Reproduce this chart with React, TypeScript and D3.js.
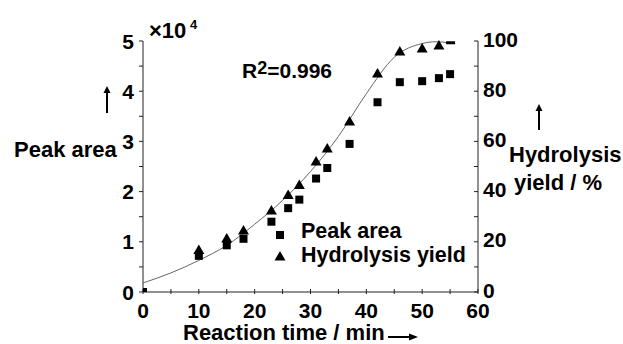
import { scaleLinear, line, curveMonotoneX, range } from 'd3';

// Peak area (x10^4) — squares
const peakTimes = [0, 10, 15, 18, 23, 26, 28, 31, 33, 37, 42, 46, 50, 53, 55];
const peakArea = [0, 0.72, 0.93, 1.06, 1.4, 1.67, 1.84, 2.26, 2.47, 2.95, 3.78, 4.18, 4.2, 4.26, 4.34];

// Hydrolysis yield (%) — triangles
const yieldTimes = [10, 15, 18, 23, 26, 28, 31, 33, 37, 42, 46, 50, 53];
const yieldPct = [16.9, 21.5, 24.7, 32.7, 38.8, 42.8, 52.2, 57.4, 68.1, 87.3, 96.0, 97.2, 98.4];
const yieldEnd = { t: 55, v: 99.3 };

// fitted curve (right axis, %)
const fitTimes = [0, 5, 10, 15, 20, 25, 30, 35, 40, 45, 50, 52.5, 55];
const fitPct = [3.6, 7.6, 12.6, 18.6, 27, 36.5, 48, 62, 79, 93.5, 99, 99.7, 99.2];

const xTicks = [0, 10, 20, 30, 40, 50, 60];
const leftTicks = [0, 1, 2, 3, 4, 5];
const rightTicks = [0, 20, 40, 60, 80, 100];

const W = 623;
const H = 344;
const m = { left: 143, right: 478, top: 41, bottom: 292 };
const FONT = '"Liberation Sans", Arial, sans-serif';
const AX = '#222';

export default function App() {
  const x = scaleLinear().domain([0, 60]).range([m.left, m.right]);
  const yL = scaleLinear().domain([0, 5]).range([m.bottom, m.top]);
  const yR = scaleLinear().domain([0, 100]).range([m.bottom, m.top]);

  const fitLine = line<number>()
    .x((_, i) => x(fitTimes[i]))
    .y((d) => yR(d))
    .curve(curveMonotoneX);

  const tri = (cx: number, cy: number, s = 10) =>
    `M${cx},${cy - s * 0.5}L${cx + s * 0.55},${cy + s * 0.45}L${cx - s * 0.55},${cy + s * 0.45}Z`;

  const tick = { fontFamily: FONT, fontWeight: 700, fontSize: 21, fill: '#000' } as const;
  const label = { ...tick, fontSize: 22 } as const;

  return (
    <svg width={W} height={H} style={{ position: 'absolute', left: 0, top: 0, background: '#fff' }}>
      <defs>
        <clipPath id="plot">
          <rect x={m.left} y={m.top - 10} width={m.right - m.left} height={m.bottom - m.top + 10} />
        </clipPath>
      </defs>

      {/* axes */}
      <line x1={m.left} x2={m.left} y1={m.top} y2={m.bottom} stroke={AX} strokeWidth={1} />
      <line x1={m.right} x2={m.right} y1={m.top} y2={m.bottom} stroke={AX} strokeWidth={1} />
      <line x1={m.left} x2={m.right} y1={m.bottom} y2={m.bottom} stroke={AX} strokeWidth={1} />

      {/* left ticks (outward) */}
      {range(0, 5.01, 0.5).map((v) => (
        <line key={`l${v}`} x1={m.left - 4} x2={m.left} y1={yL(v)} y2={yL(v)} stroke={AX} />
      ))}
      {leftTicks.map((v) => (
        <text key={`lt${v}`} x={m.left - 9} y={yL(v)} dy="0.36em" textAnchor="end" {...tick}>
          {v}
        </text>
      ))}

      {/* right ticks (inward) */}
      {range(0, 100.1, 10).map((v) => (
        <line key={`r${v}`} x1={m.right - 4} x2={m.right} y1={yR(v)} y2={yR(v)} stroke={AX} />
      ))}
      {rightTicks.map((v) => (
        <text key={`rt${v}`} x={m.right + 5} y={yR(v) - 2} dy="0.36em" textAnchor="start" {...tick}>
          {v}
        </text>
      ))}

      {/* bottom ticks */}
      {range(0, 60.1, 5).map((v) => (
        <line key={`b${v}`} x1={x(v)} x2={x(v)} y1={m.bottom - 3} y2={m.bottom + 2} stroke={AX} />
      ))}
      {xTicks.map((v) => (
        <text key={`bt${v}`} x={x(v)} y={m.bottom + 26} textAnchor="middle" {...tick}>
          {v}
        </text>
      ))}

      {/* fit curve */}
      <path d={fitLine(fitPct) || ''} fill="none" stroke="#666" strokeWidth={1} />

      <g clipPath="url(#plot)">
        {peakTimes.map((t, i) => (
          <rect key={`s${t}`} x={x(t) - 4} y={yL(peakArea[i]) - 4} width={8} height={8} fill="#000" />
        ))}
        {yieldTimes.map((t, i) => (
          <path key={`t${t}`} d={tri(x(t), yR(yieldPct[i]))} fill="#000" />
        ))}
        <rect x={x(yieldEnd.t) - 4} y={yR(yieldEnd.v) - 1.5} width={9} height={3} fill="#000" />
      </g>

      {/* ×10^4 */}
      <text x={149} y={38} {...label}>
        ×10
      </text>
      <text x={190} y={29} {...label} fontSize={13}>
        4
      </text>

      {/* R² */}
      <text x={242} y={78} {...tick}>
        R<tspan dy={-4} fontSize={18}>2</tspan>
        <tspan dy={4}>=0.996</tspan>
      </text>

      {/* left axis label */}
      <line x1={107} x2={107} y1={113} y2={91} stroke="#000" strokeWidth={2} />
      <path d="M103.5,93 L107,86 L110.5,93 Z" fill="#000" />
      <text x={14} y={157} {...label}>
        Peak area
      </text>

      {/* right axis label */}
      <line x1={539} x2={539} y1={130} y2={109} stroke="#000" strokeWidth={2} />
      <path d="M535.5,111 L539,104 L542.5,111 Z" fill="#000" />
      <text x={509} y={162} {...label}>
        Hydrolysis
      </text>
      <text x={514} y={190} {...label}>
        yield / %
      </text>

      {/* x axis label */}
      <text x={183} y={340} {...label}>
        Reaction time / min
      </text>
      <line x1={388} x2={411} y1={337} y2={337} stroke="#000" strokeWidth={2} />
      <path d="M409,333.5 L418,337 L409,340.5 Z" fill="#000" />

      {/* legend */}
      <rect x={276} y={231} width={8} height={8} fill="#000" />
      <text x={301} y={238} {...label} fontSize={21.5}>
        Peak area
      </text>
      <path d={tri(280, 256)} fill="#000" />
      <text x={301} y={262} {...label} fontSize={21.5}>
        Hydrolysis yield
      </text>
    </svg>
  );
}
